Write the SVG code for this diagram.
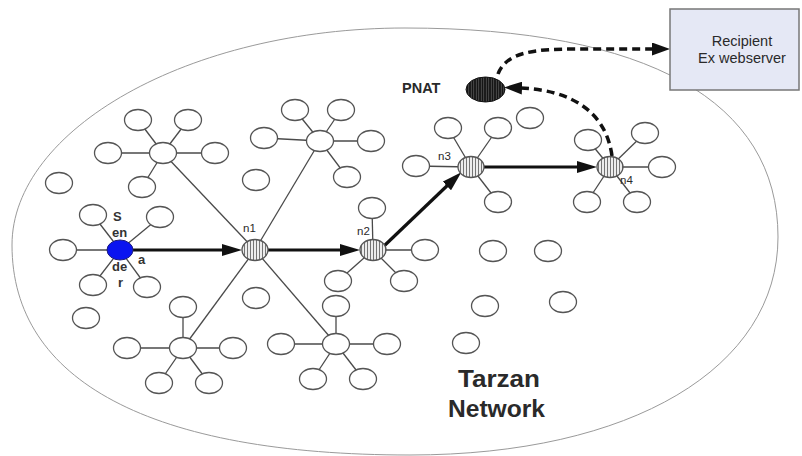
<svg xmlns="http://www.w3.org/2000/svg" width="802" height="456" viewBox="0 0 802 456">
  <style>
    .nd { fill: #ffffff; stroke: #555555; stroke-width: 1.3; }
    .ln { stroke: #4a4a4a; stroke-width: 1.3; fill: none; }
    .hop { stroke: #111111; stroke-width: 3.2; fill: none; marker-end: url(#head); }
    .dash { stroke: #111111; stroke-width: 3.5; fill: none; stroke-dasharray: 8 5; marker-end: url(#dhead); }
    .relay { fill: url(#stripes); stroke: #555555; stroke-width: 1.3; }
    .lbl { font-family: "Liberation Sans", Arial, sans-serif; fill: #2a2a2a; }
    .small { font-size: 11.5px; }
    .snd { font-size: 13px; font-weight: bold; fill: #333333; }
  </style>
  <defs>
    <pattern id="stripes" patternUnits="userSpaceOnUse" width="3" height="3">
      <rect width="3" height="3" fill="#ececec"/>
      <line x1="1.5" y1="0" x2="1.5" y2="3" stroke="#555555" stroke-width="0.8"/>
    </pattern>
    <pattern id="darkStripes" patternUnits="userSpaceOnUse" width="2.5" height="3">
      <rect width="2.5" height="3" fill="#151515"/>
      <line x1="1.25" y1="0" x2="1.25" y2="3" stroke="#7a7a7a" stroke-width="0.6"/>
    </pattern>
    <marker id="head" markerUnits="userSpaceOnUse" markerWidth="20" markerHeight="12" refX="5" refY="6" orient="auto">
      <path d="M0,0 L20,6 L0,12 z" fill="#111111"/>
    </marker>
    <marker id="dhead" markerUnits="userSpaceOnUse" markerWidth="18" markerHeight="13" refX="2" refY="6.5" orient="auto">
      <path d="M0,0 L18,6.5 L0,13 z" fill="#111111"/>
    </marker>
  </defs>

  <rect width="802" height="456" fill="#ffffff"/>

  <!-- network boundary -->
  <path id="boundary" d="M12,245 C12,130 188,28 405,28 C647,28 778,101 778,237 C778,368 631,455 410,455 C151,455 12,381 12,245 Z" fill="none" stroke="#9a9a9a" stroke-width="1"/>

  <!-- connectors -->
  <g id="connectors">
    <!-- sender spokes -->
    <line class="ln" x1="120" y1="250" x2="93" y2="215"/>
    <line class="ln" x1="120" y1="250" x2="160" y2="217"/>
    <line class="ln" x1="120" y1="250" x2="63" y2="250"/>
    <line class="ln" x1="120" y1="250" x2="93" y2="285"/>
    <line class="ln" x1="120" y1="250" x2="147" y2="287"/>
    <!-- cluster A spokes -->
    <line class="ln" x1="163" y1="153" x2="138" y2="120"/>
    <line class="ln" x1="163" y1="153" x2="188" y2="120"/>
    <line class="ln" x1="163" y1="153" x2="108" y2="153"/>
    <line class="ln" x1="163" y1="153" x2="215" y2="153"/>
    <line class="ln" x1="163" y1="153" x2="142" y2="187"/>
    <!-- cluster B spokes -->
    <line class="ln" x1="320" y1="141" x2="295" y2="110"/>
    <line class="ln" x1="320" y1="141" x2="341" y2="110"/>
    <line class="ln" x1="320" y1="141" x2="264" y2="138"/>
    <line class="ln" x1="320" y1="141" x2="371" y2="141"/>
    <line class="ln" x1="320" y1="141" x2="347" y2="177"/>
    <!-- cluster C spokes -->
    <line class="ln" x1="183" y1="348" x2="183" y2="307"/>
    <line class="ln" x1="183" y1="348" x2="127" y2="348"/>
    <line class="ln" x1="183" y1="348" x2="233" y2="348"/>
    <line class="ln" x1="183" y1="348" x2="159" y2="383"/>
    <line class="ln" x1="183" y1="348" x2="209" y2="383"/>
    <!-- cluster D spokes -->
    <line class="ln" x1="336" y1="344" x2="336" y2="306"/>
    <line class="ln" x1="336" y1="344" x2="281" y2="344"/>
    <line class="ln" x1="336" y1="344" x2="387" y2="344"/>
    <line class="ln" x1="336" y1="344" x2="313" y2="379"/>
    <line class="ln" x1="336" y1="344" x2="363" y2="379"/>
    <!-- n1 to cluster hubs -->
    <line class="ln" x1="255" y1="250" x2="163" y2="153"/>
    <line class="ln" x1="255" y1="250" x2="320" y2="141"/>
    <line class="ln" x1="255" y1="250" x2="183" y2="348"/>
    <line class="ln" x1="255" y1="250" x2="336" y2="344"/>
    <!-- n2 spokes -->
    <line class="ln" x1="373" y1="250" x2="372" y2="208"/>
    <line class="ln" x1="373" y1="250" x2="425" y2="250"/>
    <line class="ln" x1="373" y1="250" x2="338" y2="281"/>
    <line class="ln" x1="373" y1="250" x2="404" y2="281"/>
    <!-- n3 spokes -->
    <line class="ln" x1="471" y1="167" x2="448" y2="128"/>
    <line class="ln" x1="471" y1="167" x2="498" y2="128"/>
    <line class="ln" x1="471" y1="167" x2="416" y2="166"/>
    <line class="ln" x1="471" y1="167" x2="498" y2="202"/>
    <!-- n4 spokes -->
    <line class="ln" x1="610" y1="167" x2="588" y2="140"/>
    <line class="ln" x1="610" y1="167" x2="645" y2="133"/>
    <line class="ln" x1="610" y1="167" x2="662" y2="167"/>
    <line class="ln" x1="610" y1="167" x2="587" y2="202"/>
    <line class="ln" x1="610" y1="167" x2="637" y2="202"/>
    <!-- relay path -->
    <line class="hop" x1="133" y1="250" x2="227" y2="250"/>
    <line class="hop" x1="268" y1="250" x2="345" y2="250"/>
    <line class="hop" x1="384" y1="246" x2="450.5" y2="182.5"/>
    <line class="hop" x1="484" y1="167" x2="582" y2="167"/>
    <!-- exit legs -->
    <path class="dash" d="M612,156 C606,112 572,90 520,88"/>
    <path class="dash" d="M498,74 C506,52 535,49 575,49 L654,49"/>
  </g>

  <!-- scattered peers -->
  <g id="peers">
    <ellipse id="peer1" class="nd" cx="59" cy="183" rx="13.5" ry="10.5"/>
    <ellipse id="peer2" class="nd" cx="86" cy="318" rx="13.5" ry="10.5"/>
    <ellipse id="peer3" class="nd" cx="256" cy="180" rx="13.5" ry="10.5"/>
    <ellipse id="peer4" class="nd" cx="256" cy="298" rx="13.5" ry="10.5"/>
    <ellipse id="peer5" class="nd" cx="530" cy="118" rx="13.5" ry="10.5"/>
    <ellipse id="peer6" class="nd" cx="493" cy="251" rx="13.5" ry="10.5"/>
    <ellipse id="peer7" class="nd" cx="548" cy="251" rx="13.5" ry="10.5"/>
    <ellipse id="peer8" class="nd" cx="485" cy="306" rx="13.5" ry="10.5"/>
    <ellipse id="peer9" class="nd" cx="563" cy="302" rx="13.5" ry="10.5"/>
    <ellipse id="peer10" class="nd" cx="466" cy="343" rx="13.5" ry="10.5"/>
  </g>

  <g id="clusterA">
    <ellipse class="nd" cx="163" cy="153" rx="13.5" ry="10.5"/>
    <ellipse class="nd" cx="138" cy="120" rx="13.5" ry="10.5"/>
    <ellipse class="nd" cx="188" cy="120" rx="13.5" ry="10.5"/>
    <ellipse class="nd" cx="108" cy="153" rx="13.5" ry="10.5"/>
    <ellipse class="nd" cx="215" cy="153" rx="13.5" ry="10.5"/>
    <ellipse class="nd" cx="142" cy="187" rx="13.5" ry="10.5"/>
  </g>

  <g id="clusterB">
    <ellipse class="nd" cx="320" cy="141" rx="13.5" ry="10.5"/>
    <ellipse class="nd" cx="295" cy="110" rx="13.5" ry="10.5"/>
    <ellipse class="nd" cx="341" cy="110" rx="13.5" ry="10.5"/>
    <ellipse class="nd" cx="264" cy="138" rx="13.5" ry="10.5"/>
    <ellipse class="nd" cx="371" cy="141" rx="13.5" ry="10.5"/>
    <ellipse class="nd" cx="347" cy="177" rx="13.5" ry="10.5"/>
  </g>

  <g id="clusterC">
    <ellipse class="nd" cx="183" cy="348" rx="13.5" ry="10.5"/>
    <ellipse class="nd" cx="183" cy="307" rx="13.5" ry="10.5"/>
    <ellipse class="nd" cx="127" cy="348" rx="13.5" ry="10.5"/>
    <ellipse class="nd" cx="233" cy="348" rx="13.5" ry="10.5"/>
    <ellipse class="nd" cx="159" cy="383" rx="13.5" ry="10.5"/>
    <ellipse class="nd" cx="209" cy="383" rx="13.5" ry="10.5"/>
  </g>

  <g id="clusterD">
    <ellipse class="nd" cx="336" cy="344" rx="13.5" ry="10.5"/>
    <ellipse class="nd" cx="336" cy="306" rx="13.5" ry="10.5"/>
    <ellipse class="nd" cx="281" cy="344" rx="13.5" ry="10.5"/>
    <ellipse class="nd" cx="387" cy="344" rx="13.5" ry="10.5"/>
    <ellipse class="nd" cx="313" cy="379" rx="13.5" ry="10.5"/>
    <ellipse class="nd" cx="363" cy="379" rx="13.5" ry="10.5"/>
  </g>

  <g id="sender">
    <ellipse class="nd" cx="93" cy="215" rx="13.5" ry="10.5"/>
    <ellipse class="nd" cx="160" cy="217" rx="13.5" ry="10.5"/>
    <ellipse class="nd" cx="63" cy="250" rx="13.5" ry="10.5"/>
    <ellipse class="nd" cx="93" cy="285" rx="13.5" ry="10.5"/>
    <ellipse class="nd" cx="147" cy="287" rx="13.5" ry="10.5"/>
    <ellipse cx="120" cy="250" rx="13" ry="10" fill="#0a14f0" stroke="#1a1a80" stroke-width="1"/>
    <text class="lbl snd" x="113" y="221" font-size="14">S</text>
    <text class="lbl snd" x="112" y="237">en</text>
    <text class="lbl snd" x="138" y="264">a</text>
    <text class="lbl snd" x="112" y="271">de</text>
    <text class="lbl snd" x="118" y="287">r</text>
  </g>

  <g id="n1">
    <ellipse class="relay" cx="255" cy="250" rx="13" ry="10.5"/>
    <text class="lbl small" x="243" y="232">n1</text>
  </g>

  <g id="n2">
    <ellipse class="nd" cx="372" cy="208" rx="13.5" ry="10.5"/>
    <ellipse class="nd" cx="425" cy="250" rx="13.5" ry="10.5"/>
    <ellipse class="nd" cx="338" cy="281" rx="13.5" ry="10.5"/>
    <ellipse class="nd" cx="404" cy="281" rx="13.5" ry="10.5"/>
    <ellipse class="relay" cx="373" cy="250" rx="13" ry="10.5"/>
    <text class="lbl small" x="357" y="235">n2</text>
  </g>

  <g id="n3">
    <ellipse class="nd" cx="448" cy="128" rx="13.5" ry="10.5"/>
    <ellipse class="nd" cx="498" cy="128" rx="13.5" ry="10.5"/>
    <ellipse class="nd" cx="416" cy="166" rx="13.5" ry="10.5"/>
    <ellipse class="nd" cx="498" cy="202" rx="13.5" ry="10.5"/>
    <ellipse class="relay" cx="471" cy="167" rx="13" ry="10.5"/>
    <text class="lbl small" x="438" y="160">n3</text>
  </g>

  <g id="n4">
    <ellipse class="nd" cx="588" cy="140" rx="13.5" ry="10.5"/>
    <ellipse class="nd" cx="645" cy="133" rx="13.5" ry="10.5"/>
    <ellipse class="nd" cx="662" cy="167" rx="13.5" ry="10.5"/>
    <ellipse class="nd" cx="587" cy="202" rx="13.5" ry="10.5"/>
    <ellipse class="nd" cx="637" cy="202" rx="13.5" ry="10.5"/>
    <ellipse class="relay" cx="610" cy="167" rx="13" ry="10.5"/>
    <text class="lbl small" x="620" y="184">n4</text>
  </g>

  <g id="pnat">
    <ellipse cx="485.5" cy="89.5" rx="19.5" ry="12.5" fill="url(#darkStripes)" stroke="#111111" stroke-width="1"/>
    <text class="lbl" x="402" y="93" font-size="14.5" font-weight="bold">PNAT</text>
  </g>

  <g id="recipient">
    <rect x="670" y="9" width="129" height="81" fill="#e5e8f5" stroke="#777777" stroke-width="1.5"/>
    <text class="lbl" x="742" y="45.5" font-size="14.5" text-anchor="middle" fill="#444444">Recipient</text>
    <text class="lbl" x="742" y="63" font-size="14.5" text-anchor="middle" fill="#444444">Ex webserver</text>
  </g>

  <g id="title">
    <text class="lbl" x="458" y="387" font-size="24" font-weight="bold" fill="#111111" textLength="82" lengthAdjust="spacingAndGlyphs">Tarzan</text>
    <text class="lbl" x="448" y="417" font-size="24" font-weight="bold" fill="#111111" textLength="97" lengthAdjust="spacingAndGlyphs">Network</text>
  </g>
</svg>
